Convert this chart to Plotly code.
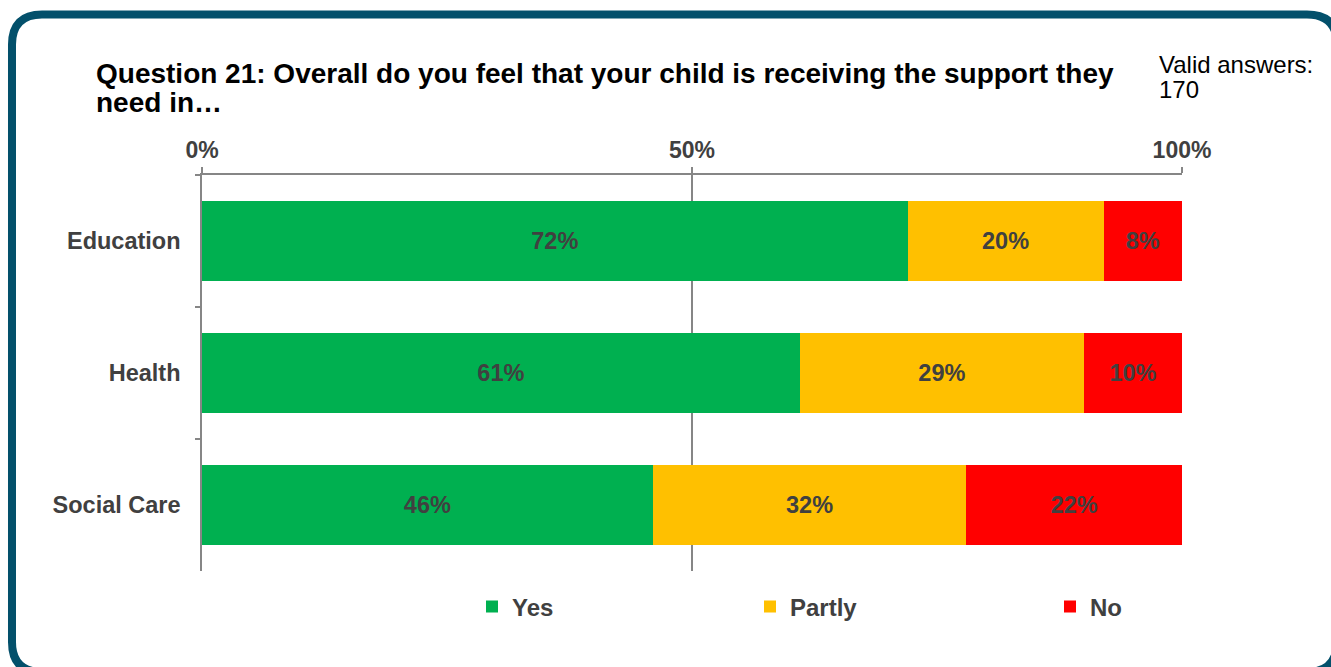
import plotly.graph_objects as go

# Survey responses (percent of valid answers)
categories = ["Education", "Health", "Social Care"]
yes_pct = [72, 61, 46]
partly_pct = [20, 29, 32]
no_pct = [8, 10, 22]
series_names = ["Yes", "Partly", "No"]
series_colors = ["#00B050", "#FFC000", "#FF0000"]
x_tick_vals = [0, 50, 100]
x_tick_text = ["0%", "50%", "100%"]
title_lines = ["Question 21: Overall do you feel that your child is receiving the support they",
               "need in…"]
note_lines = ["Valid answers:", "170"]

W, H = 1331, 667
ML, MR, MT, MB = 202, 149, 175, 96
PW, PH = W - ML - MR, H - MT - MB


def px_x(px):
    return (px - ML) / PW


def px_y(py):
    return (H - MB - py) / PH


FONT = "Liberation Sans, Arial, sans-serif"
TXT = "#404040"
GRID = "#868686"

fig = go.Figure()
for name, vals, color, leg in zip(series_names, [yes_pct, partly_pct, no_pct],
                                  series_colors, ["legend", "legend2", "legend3"]):
    fig.add_trace(go.Bar(
        y=categories, x=vals, name=name, orientation="h",
        marker=dict(color=color, line=dict(width=0)),
        text=[f"{v}%" for v in vals], textposition="inside",
        insidetextanchor="middle", textangle=0,
        textfont=dict(family=FONT, size=23.5, color=TXT, weight="bold"),
        legend=leg, hoverinfo="skip",
    ))

# Rounded frame around the whole chart
r = 30
x0, x1 = 12, 1337
y0, y1 = 14.5, 672


def P(x, y):
    return f"{px_x(x):.5f},{px_y(y):.5f}"


frame = (
    f"M{P(x0 + r, y0)} L{P(x1 - r, y0)} Q{P(x1, y0)} {P(x1, y0 + r)} "
    f"L{P(x1, y1 - r)} Q{P(x1, y1)} {P(x1 - r, y1)} "
    f"L{P(x0 + r, y1)} Q{P(x0, y1)} {P(x0, y1 - r)} "
    f"L{P(x0, y0 + r)} Q{P(x0, y0)} {P(x0 + r, y0)} Z"
)
fig.add_shape(type="path", path=frame, xref="paper", yref="paper",
              line=dict(color="#03506B", width=8), layer="above")

# Title, one annotation per line for tight line spacing
for line, cy in zip(title_lines, [73, 102]):
    fig.add_annotation(
        text=line, xref="paper", yref="paper", x=px_x(94), y=px_y(cy),
        xanchor="left", yanchor="middle", align="left", showarrow=False,
        font=dict(family=FONT, size=28, color="#000000", weight="bold"),
    )
for line, cy in zip(note_lines, [64, 89]):
    fig.add_annotation(
        text=line, xref="paper", yref="paper", x=px_x(1157), y=px_y(cy),
        xanchor="left", yanchor="middle", align="left", showarrow=False,
        font=dict(family=FONT, size=24, color="#000000"),
    )

legend_font = dict(family=FONT, size=24, color=TXT, weight="bold")
legend_common = dict(orientation="h", yanchor="middle", xanchor="left",
                     font=legend_font, bgcolor="rgba(0,0,0,0)")

fig.update_layout(
    width=W, height=H,
    margin=dict(l=ML, r=MR, t=MT, b=MB),
    paper_bgcolor="white", plot_bgcolor="white",
    barmode="stack", bargap=0.39,
    font=dict(family=FONT, color=TXT),
    xaxis=dict(
        side="top", range=[0, 100], tickvals=x_tick_vals, ticktext=x_tick_text,
        showgrid=True, gridcolor=GRID, gridwidth=1.5, zeroline=False,
        showline=True, linecolor=GRID, linewidth=1.5,
        ticks="outside", ticklen=6, tickcolor=GRID, tickwidth=1.5,
        tickfont=dict(family=FONT, size=23, color=TXT, weight="bold"),
        fixedrange=True,
    ),
    yaxis=dict(
        categoryorder="array", categoryarray=categories, range=[2.5, -0.5],
        showgrid=False, zeroline=False, showline=True, linecolor=GRID, linewidth=1.5,
        ticks="outside", tickson="boundaries", ticklen=5, tickcolor=GRID, tickwidth=1.5,
        tickfont=dict(family=FONT, size=23.5, color=TXT, weight="bold"),
        ticklabelstandoff=15, fixedrange=True,
    ),
    legend=dict(x=px_x(472), y=px_y(607), **legend_common),
    legend2=dict(x=px_x(750), y=px_y(607), **legend_common),
    legend3=dict(x=px_x(1050), y=px_y(607), **legend_common),
    showlegend=True,
)

fig.write_html("out.html")
